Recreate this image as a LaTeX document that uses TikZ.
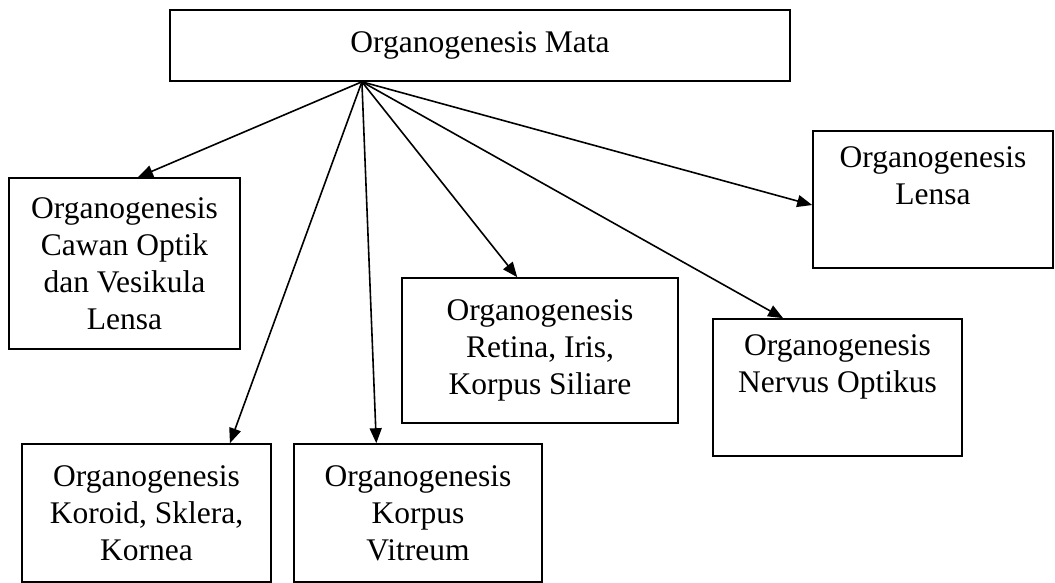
\documentclass[tikz,border=0pt]{standalone}
\usepackage{fontspec}
\setmainfont{Liberation Serif}
\usetikzlibrary{arrows.meta,calc}
\begin{document}
\begin{tikzpicture}[x=1pt,y=-1pt,
  box/.style={draw=black, line width=1.6pt, rectangle, inner sep=0pt, align=center,
    font=\fontsize{31.5}{37}\selectfont},
  link/.style={draw=black, line width=1.6pt, -{Triangle[length=15pt,width=12pt]}}]
\useasboundingbox[fill=white] (0,0) rectangle (1055,583);
\node[box, minimum width=620pt, minimum height=71pt] (top) at (480,45.5) {Organogenesis Mata};
\node[box, minimum width=231pt, minimum height=171pt] (cawan) at (124.5,263.5)
  {Organogenesis\\Cawan Optik\\dan Vesikula\\Lensa};
\node[box, minimum width=249pt, minimum height=138pt] (koroid) at (146.5,513)
  {Organogenesis\\Koroid, Sklera,\\Kornea};
\node[box, minimum width=248pt, minimum height=138pt] (vitreum) at (418,513)
  {Organogenesis\\Korpus\\Vitreum};
\node[box, minimum width=276pt, minimum height=145pt] (retina) at (540,350.5)
  {Organogenesis\\Retina, Iris,\\Korpus Siliare};
\node[box, minimum width=249pt, minimum height=137pt] (nervus) at (837.5,387.5)
  {Organogenesis\\Nervus Optikus\\\strut};
\node[box, minimum width=240pt, minimum height=137pt] (lensa) at (933,199.5)
  {Organogenesis\\Lensa\\\strut};
\coordinate (o) at ($(top.south west)!0.31!(top.south east)$);
\draw[link] (o) -- ($(cawan.north west)!0.558!(cawan.north east)$);
\draw[link] (o) -- ($(koroid.north west)!0.833!(koroid.north east)$);
\draw[link] (o) -- ($(vitreum.north west)!0.333!(vitreum.north east)$);
\draw[link] (o) -- ($(retina.north west)!0.418!(retina.north east)$);
\draw[link] (o) -- ($(nervus.north west)!0.283!(nervus.north east)$);
\draw[link] (o) -- ($(lensa.north west)!0.54!(lensa.south west)$);
\end{tikzpicture}
\end{document}
